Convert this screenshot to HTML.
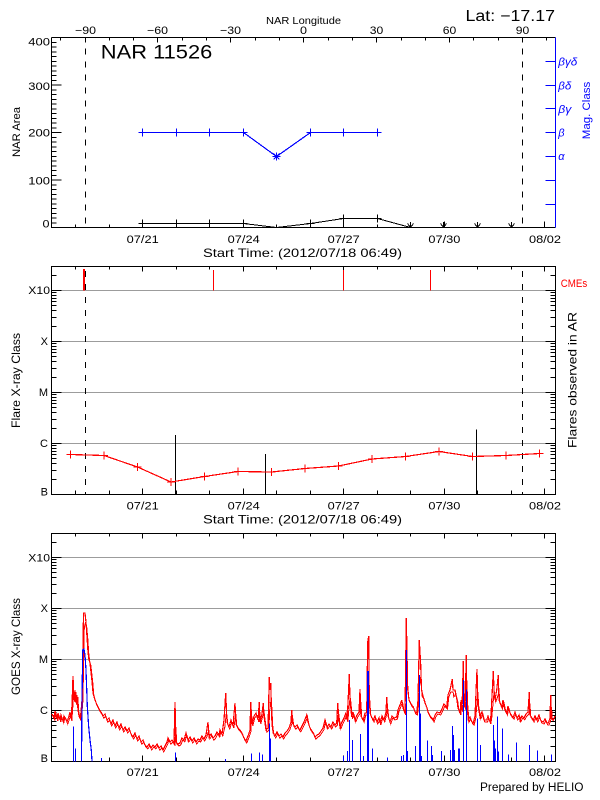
<!DOCTYPE html>
<html><head><meta charset="utf-8"><style>
html,body{margin:0;padding:0;background:#fff;}
svg{display:block;}
text{font-family:"Liberation Sans",sans-serif;fill:#000;}
</style></head><body>
<svg width="600" height="800" viewBox="0 0 600 800" xmlns="http://www.w3.org/2000/svg" shape-rendering="crispEdges">
<rect width="600" height="800" fill="#fff"/>

<!-- ================= PANEL 1 ================= -->
<g stroke="#000" fill="none" stroke-width="1">
 <path d="M51.5 37.5H555.5M51.5 37.5V227.5H555.5"/>
 <path d="M51.5 227.5h10M51.5 180h10M51.5 132.5h10M51.5 85h10M51.5 37.5h10"/>
 <path d="M51.5 222.75h5M51.5 218h5M51.5 213.25h5M51.5 208.5h5M51.5 203.75h5M51.5 199h5M51.5 194.25h5M51.5 189.5h5M51.5 184.75h5M51.5 175.25h5M51.5 170.5h5M51.5 165.75h5M51.5 161h5M51.5 156.25h5M51.5 151.5h5M51.5 146.75h5M51.5 142h5M51.5 137.25h5M51.5 127.75h5M51.5 123h5M51.5 118.25h5M51.5 113.5h5M51.5 108.75h5M51.5 104h5M51.5 99.25h5M51.5 94.5h5M51.5 89.75h5M51.5 80.25h5M51.5 75.5h5M51.5 70.75h5M51.5 66h5M51.5 61.25h5M51.5 56.5h5M51.5 51.75h5M51.5 47h5M51.5 42.25h5"/>
 <path d="M142.5 227.5v-6M243.5 227.5v-6M343.5 227.5v-6M444.5 227.5v-6M544.5 227.5v-6M75.5 227.5v-3M109.5 227.5v-3M176.5 227.5v-3M209.5 227.5v-3M276.5 227.5v-3M310.5 227.5v-3M377.5 227.5v-3M410.5 227.5v-3M477.5 227.5v-3M511.5 227.5v-3"/>
 <path d="M85.5 37.5v5M157.5 37.5v5M230.5 37.5v5M303.5 37.5v5M376.5 37.5v5M449.5 37.5v5M522.5 37.5v5M60.5 37.5v3M109.5 37.5v3M133.5 37.5v3M182.5 37.5v3M206.5 37.5v3M255.5 37.5v3M279.5 37.5v3M328.5 37.5v3M352.5 37.5v3M401.5 37.5v3M425.5 37.5v3M473.5 37.5v3M498.5 37.5v3M546.5 37.5v3"/>
 <path d="M85.5 37.5V227.5M522.5 37.5V227.5" stroke-dasharray="6,7" stroke-dashoffset="2"/>
</g>
<g stroke="#0000ff" fill="none">
 <path d="M555.5 37.5V227.5"/>
 <path d="M555.5 61.5h-10M555.5 85.5h-10M555.5 108.5h-10M555.5 132.5h-10M555.5 156.5h-10M555.5 180.5h-10M555.5 204.5h-10"/>
 <polyline points="142.5,132.5 176.5,132.5 209.5,132.5 243.5,132.5 276.5,156.5 310.5,132.5 343.5,132.5 377.5,132.5" stroke-width="1.2"/>
 <path d="M138.5 132.5h8M142.5 128.5v8M172.5 132.5h8M176.5 128.5v8M205.5 132.5h8M209.5 128.5v8M239.5 132.5h8M243.5 128.5v8M272.5 156.5h8M276.5 152.5v8M273.5 153.5l6 6M279.5 153.5l-6 6M306.5 132.5h8M310.5 128.5v8M339.5 132.5h8M343.5 128.5v8M373.5 132.5h8M377.5 128.5v8"/>
</g>
<g stroke="#000" fill="none">
 <polyline points="142.5,223.5 176.5,223.5 209.5,223.5 243.5,223.5 276.5,227.5 310.5,223.5 343.5,218.5 377.5,218.5 410.5,227.5 511.5,227.5"/>
 <path d="M138.5 223.5h8M142.5 219.5v8M172.5 223.5h8M176.5 219.5v8M205.5 223.5h8M209.5 219.5v8M239.5 223.5h8M243.5 219.5v8M306.5 223.5h8M310.5 219.5v8M339.5 218.5h8M343.5 214.5v8M373.5 218.5h8M377.5 214.5v8"/>
 <path d="M407.5 223.5l3 4l3 -4M410.5 222v5.5M440.5 223.5l3 4l3 -4M443.5 222v5.5M474.5 223.5l3 4l3 -4M477.5 222v5.5M508.5 223.5l3 4l3 -4M511.5 222v5.5"/>
</g>

<text x="266" y="24" font-size="10" textLength="75" lengthAdjust="spacingAndGlyphs">NAR Longitude</text>
<g font-size="11" text-anchor="middle">
 <text x="85.5" y="34" textLength="21" lengthAdjust="spacingAndGlyphs">−90</text>
 <text x="157.5" y="34" textLength="21" lengthAdjust="spacingAndGlyphs">−60</text>
 <text x="230.5" y="34" textLength="21" lengthAdjust="spacingAndGlyphs">−30</text>
 <text x="303.5" y="34" textLength="7" lengthAdjust="spacingAndGlyphs">0</text>
 <text x="376.5" y="34" textLength="13.5" lengthAdjust="spacingAndGlyphs">30</text>
 <text x="449.5" y="34" textLength="13.5" lengthAdjust="spacingAndGlyphs">60</text>
 <text x="522.5" y="34" textLength="13.5" lengthAdjust="spacingAndGlyphs">90</text>
</g>
<text x="465.5" y="21.2" font-size="15.5" textLength="89.5" lengthAdjust="spacingAndGlyphs">Lat: −17.17</text>
<text x="100.8" y="58.4" font-size="19.5" textLength="111.5" lengthAdjust="spacingAndGlyphs">NAR 11526</text>
<g font-size="11" text-anchor="end">
 <text x="50" y="45.7" textLength="21.7" lengthAdjust="spacingAndGlyphs">400</text>
 <text x="50" y="89.8" textLength="21.7" lengthAdjust="spacingAndGlyphs">300</text>
 <text x="50" y="136.4" textLength="21.7" lengthAdjust="spacingAndGlyphs">200</text>
 <text x="50" y="184.4" textLength="21.7" lengthAdjust="spacingAndGlyphs">100</text>
 <text x="49.5" y="227.7" textLength="7" lengthAdjust="spacingAndGlyphs">0</text>
</g>
<text x="20" y="132" font-size="11" text-anchor="middle" transform="rotate(-90 20 132)" textLength="50" lengthAdjust="spacingAndGlyphs">NAR Area</text>
<g font-size="11" font-style="italic" style="fill:#0000ff">
 <text x="558.3" y="65.3" style="fill:#0000ff" textLength="19" lengthAdjust="spacingAndGlyphs">βγδ</text>
 <text x="558.3" y="89.3" style="fill:#0000ff" textLength="13" lengthAdjust="spacingAndGlyphs">βδ</text>
 <text x="558.3" y="112.8" style="fill:#0000ff" textLength="13" lengthAdjust="spacingAndGlyphs">βγ</text>
 <text x="558.3" y="136.5" style="fill:#0000ff">β</text>
 <text x="558.3" y="160" style="fill:#0000ff">α</text>
</g>
<text x="590" y="110.5" font-size="11" text-anchor="middle" transform="rotate(-90 590 110.5)" style="fill:#0000ff" textLength="57.5" lengthAdjust="spacingAndGlyphs">Mag. Class</text>
<g font-size="11" text-anchor="middle">
 <text x="142.7" y="243" textLength="32" lengthAdjust="spacingAndGlyphs">07/21</text>
 <text x="243.7" y="243" textLength="32" lengthAdjust="spacingAndGlyphs">07/24</text>
 <text x="343.7" y="243" textLength="32" lengthAdjust="spacingAndGlyphs">07/27</text>
 <text x="444.4" y="243" textLength="32" lengthAdjust="spacingAndGlyphs">07/30</text>
 <text x="545" y="243" textLength="32" lengthAdjust="spacingAndGlyphs">08/02</text>
</g>
<text x="203" y="257" font-size="12" textLength="199" lengthAdjust="spacingAndGlyphs">Start Time: (2012/07/18 06:49)</text>

<!-- ================= LOG FRAME (panel 2, reused for panel 3) ================= -->
<g id="frame" fill="none" stroke-width="1">
 <path d="M52 290.5H555M52 341.5H555M52 392.5H555M52 443.5H555" stroke="#9c9c9c"/>
 <g stroke="#000">
  <rect x="51.5" y="266.5" width="504" height="228"/>
  <path d="M51.5 290.5h10M51.5 341.5h10M51.5 392.5h10M51.5 443.5h10M555.5 290.5h-10M555.5 341.5h-10M555.5 392.5h-10M555.5 443.5h-10"/>
  <path d="M51.5 479.5h5M51.5 470.5h5M51.5 463.5h5M51.5 458.5h5M51.5 454.5h5M51.5 451.5h5M51.5 448.5h5M51.5 445.5h5M51.5 428.5h5M51.5 419.5h5M51.5 412.5h5M51.5 407.5h5M51.5 403.5h5M51.5 400.5h5M51.5 397.5h5M51.5 394.5h5M51.5 377.5h5M51.5 368.5h5M51.5 361.5h5M51.5 356.5h5M51.5 352.5h5M51.5 349.5h5M51.5 346.5h5M51.5 343.5h5M51.5 326.5h5M51.5 317.5h5M51.5 310.5h5M51.5 305.5h5M51.5 301.5h5M51.5 298.5h5M51.5 295.5h5M51.5 292.5h5M51.5 275.5h5"/>
  <path d="M555.5 479.5h-5M555.5 470.5h-5M555.5 463.5h-5M555.5 458.5h-5M555.5 454.5h-5M555.5 451.5h-5M555.5 448.5h-5M555.5 445.5h-5M555.5 428.5h-5M555.5 419.5h-5M555.5 412.5h-5M555.5 407.5h-5M555.5 403.5h-5M555.5 400.5h-5M555.5 397.5h-5M555.5 394.5h-5M555.5 377.5h-5M555.5 368.5h-5M555.5 361.5h-5M555.5 356.5h-5M555.5 352.5h-5M555.5 349.5h-5M555.5 346.5h-5M555.5 343.5h-5M555.5 326.5h-5M555.5 317.5h-5M555.5 310.5h-5M555.5 305.5h-5M555.5 301.5h-5M555.5 298.5h-5M555.5 295.5h-5M555.5 292.5h-5M555.5 275.5h-5"/>
  <path d="M142.5 494.5v-6M243.5 494.5v-6M343.5 494.5v-6M444.5 494.5v-6M544.5 494.5v-6M75.5 494.5v-4M109.5 494.5v-4M176.5 494.5v-4M209.5 494.5v-4M276.5 494.5v-4M310.5 494.5v-4M377.5 494.5v-4M410.5 494.5v-4M477.5 494.5v-4M511.5 494.5v-4"/>
  <path d="M142.5 266.5v5M243.5 266.5v5M343.5 266.5v5M444.5 266.5v5M544.5 266.5v5M75.5 266.5v3M109.5 266.5v3M176.5 266.5v3M209.5 266.5v3M276.5 266.5v3M310.5 266.5v3M377.5 266.5v3M410.5 266.5v3M477.5 266.5v3M511.5 266.5v3"/>
 </g>
</g>
<use href="#frame" transform="translate(0,267)"/>

<!-- ================= PANEL 2 data ================= -->
<path d="M85.5 266.5V494.5M522.5 266.5V494.5" stroke="#000" stroke-dasharray="6,7" stroke-dashoffset="8.5" fill="none"/>
<rect x="83" y="269" width="2" height="21.5" fill="#ff0000"/>
<path d="M213.5 270V290.5M343.5 270V290.5M430.5 270V290.5" stroke="#ff0000" fill="none"/>
<path d="M175.5 435V494.5M265.5 454V494.5M476.5 429.5V494.5" stroke="#000" fill="none"/>
<g stroke="#ff0000" fill="none">
 <polyline points="70.5,454.5 104,455.5 137.5,467 171,482 204.5,476.5 238,471.5 271.5,472 305,468.5 338.5,466 372,459 405.5,456.5 439,451.5 472.5,456.5 506,455.5 539.5,453.5" stroke-width="1.2"/>
 <path d="M66.5 454.5h8M70.5 450.5v8M100 455.5h8M104 451.5v8M133.5 467h8M137.5 463v8M167 482h8M171 478v8M200.5 476.5h8M204.5 472.5v8M234 471.5h8M238 467.5v8M267.5 472h8M271.5 468v8M301 468.5h8M305 464.5v8M334.5 466h8M338.5 462v8M368 459h8M372 455v8M401.5 456.5h8M405.5 452.5v8M435 451.5h8M439 447.5v8M468.5 456.5h8M472.5 452.5v8M502 455.5h8M506 451.5v8M535.5 453.5h8M539.5 449.5v8"/>
</g>
<text x="560.7" y="287" font-size="11" style="fill:#ff0000" textLength="26.5" lengthAdjust="spacingAndGlyphs">CMEs</text>
<text x="576.7" y="380" font-size="12" text-anchor="middle" transform="rotate(-90 576.7 380)" textLength="136" lengthAdjust="spacingAndGlyphs">Flares observed in AR</text>
<text x="20" y="380.5" font-size="12" text-anchor="middle" transform="rotate(-90 20 380.5)" textLength="95" lengthAdjust="spacingAndGlyphs">Flare X-ray Class</text>
<g font-size="11" text-anchor="end">
 <text x="50" y="294" textLength="21.7" lengthAdjust="spacingAndGlyphs">X10</text>
 <text x="48" y="345">X</text>
 <text x="48" y="396">M</text>
 <text x="48" y="447">C</text>
 <text x="48" y="495.3">B</text>
</g>
<g font-size="11" text-anchor="middle">
 <text x="142.7" y="509.7" textLength="32" lengthAdjust="spacingAndGlyphs">07/21</text>
 <text x="243.7" y="509.7" textLength="32" lengthAdjust="spacingAndGlyphs">07/24</text>
 <text x="343.7" y="509.7" textLength="32" lengthAdjust="spacingAndGlyphs">07/27</text>
 <text x="444.4" y="509.7" textLength="32" lengthAdjust="spacingAndGlyphs">07/30</text>
 <text x="545" y="509.7" textLength="32" lengthAdjust="spacingAndGlyphs">08/02</text>
</g>
<text x="203" y="523.7" font-size="12" textLength="199" lengthAdjust="spacingAndGlyphs">Start Time: (2012/07/18 06:49)</text>

<!-- ================= PANEL 3 data ================= -->
<polyline fill="none" stroke="#ff0000" stroke-width="1.2" points="52,714 54,718 55,711 57,719 58,713 60,720 61,715 63,721 64,716 66,719 67,722 69,716 70,712 71,719 72,705 73,676 74,700 75,690 76,703 77,695 78,710 79,716 80,718 81,712 82,700 82.7,664 83.5,613 85,613 86,622 87,637 88,652 89,660 90,663 91,672 92,681 93,693 95,700 97,705 99,709 101,712 103,716 105,714 107,720 109,718 111,724 113,720 115,726 117,722 119,728 121,724 123,730 125,727 127,731 129,728 131,734 133,737 135,733 137,739 139,736 141,742 143,740 145,745 147,747 149,744 151,748 153,745 155,747 157,744 159,748 161,746 163,750 165,746 167,742 168,738 170,742 172,740 174,743 175,702 176,742 178,744 180,743 182,738 184,740 186,733 188,740 190,737 192,741 194,738 196,742 198,739 200,740 202,736 204,739 206,735 208,722 209,737 211,734 213,738 215,736 217,732 219,735 220,730 222,734 224,720 225.7,693 227,722 229,727 231,720 233,726 235,703 236,724 238,728 240,730 242,733 244,738 246,741 248,736 250,730 250.7,702 252,724 254,716 256,713 258,720 259.3,702 260,722 262,714 263.3,703 264,716 266,730 268,728 269.3,677 270,690 270.7,683 272,725 273.3,733 275,736 277,732 279,736 281,734 283,737 285,733 287,731 289,728 291,722 291.7,710 293,724 295,727 297,725 299,729 300,730 302,726 304,722 306.7,715 308,722 310,728 312,731 313.3,733 315,737 317,735 319,734 321,731 323,728 325,720 327,727 329,724 331,727 333,722 335,725 336.7,723 337.7,703 339,720 340,727 342,722 344,718 346,713 347,720 348,703 349.3,674 350,700 351.7,717 353,712 355,720 357,715 359,712 360,689 361,716 363.3,720 365,713 366.7,713 367.7,642 368.7,636 369,680 370,713 372,718 373.3,720 375,716 377,722 379,718 380,723 382,716 384,720 386,712 386.7,697 388,716 390,722 392,716 394,718 396.7,717 398,710 400,705 401.7,700 403,708 405,713 406.3,618 407.7,688 409,700 411,704 413.3,707 415,712 416.7,713 418,700 419.3,640 420.7,665 421.5,690 423.3,697 425,703 426.7,707 428,712 430,716 432,718 433.3,720 435,715 437,712 440,713 442,709 444,704 446.7,707 448,695 450,690 452.3,679 453,690 455,690 457,700 458,708 460,713 461,700 462,710 463.3,661 464,700 465,708 466.3,655 467,705 468.3,720 470,717 472,722 473.3,723 475,716 477,669 478,705 480,717 482,712 484,720 486.7,720 488,716 490,722 491,715 493.3,671 494,690 495,700 496.7,690 498.3,675 499,700 500,703 501.7,707 503,700 505,710 506.7,713 508,706 510,713 512,716 513.3,717 515,712 517,718 519,715 520,720 522,716 524,718 526,714 528,712 529.3,692 530,715 532,718 533.3,720 535,716 537,720 539,715 541,721 543.3,722 545,719 547,723 548.3,723 550,718 550.7,695 551.5,718 553.3,720 555,716"/>
<polyline fill="none" stroke="#ff0000" stroke-width="1" transform="translate(0.8,2)" points="52,714 54,718 55,711 57,719 58,713 60,720 61,715 63,721 64,716 66,719 67,722 69,716 70,712 71,719 72,705 73,690 74,700 75,690 76,703 77,695 78,710 79,716 80,718 81,712 82,700 82.7,670 83.5,625 85,620 86,626 87,637 88,652 89,660 90,663 91,672 92,681 93,693 95,700 97,705 99,709 101,712 103,716 105,714 107,720 109,718 111,724 113,720 115,726 117,722 119,728 121,724 123,730 125,727 127,731 129,728 131,734 133,737 135,733 137,739 139,736 141,742 143,740 145,745 147,747 149,744 151,748 153,745 155,747 157,744 159,748 161,746 163,750 165,746 167,742 168,738 170,742 172,740 174,743 175,725 176,742 178,744 180,743 182,738 184,740 186,733 188,740 190,737 192,741 194,738 196,742 198,739 200,740 202,736 204,739 206,735 208,728 209,737 211,734 213,738 215,736 217,732 219,735 220,730 222,734 224,725 225.7,710 227,722 229,727 231,720 233,726 235,712 236,724 238,728 240,730 242,733 244,738 246,741 248,736 250,730 250.7,712 252,724 254,716 256,713 258,720 259.3,712 260,722 262,714 263.3,710 264,716 266,730 268,728 269.3,700 270,705 270.7,700 272,725 273.3,733 275,736 277,732 279,736 281,734 283,737 285,733 287,731 289,728 291,722 291.7,715 293,724 295,727 297,725 299,729 300,730 302,726 304,722 306.7,715 308,722 310,728 312,731 313.3,733 315,737 317,735 319,734 321,731 323,728 325,720 327,727 329,724 331,727 333,722 335,725 336.7,723 337.7,710 339,720 340,727 342,722 344,718 346,713 347,720 348,708 349.3,695 350,700 351.7,717 353,712 355,720 357,715 359,712 360,700 361,716 363.3,720 365,713 366.7,713 367.7,680 368.7,690 369,700 370,713 372,718 373.3,720 375,716 377,722 379,718 380,723 382,716 384,720 386,712 386.7,705 388,716 390,722 392,716 394,718 396.7,717 398,710 400,705 401.7,700 403,708 405,713 406.3,680 407.7,695 409,700 411,704 413.3,707 415,712 416.7,713 418,700 419.3,675 420.7,685 421.5,695 423.3,697 425,703 426.7,707 428,712 430,716 432,718 433.3,720 435,715 437,712 440,713 442,709 444,704 446.7,707 448,695 450,690 452.3,690 453,695 455,692 457,700 458,708 460,713 461,700 462,710 463.3,690 464,700 465,708 466.3,685 467,705 468.3,720 470,717 472,722 473.3,723 475,716 477,690 478,705 480,717 482,712 484,720 486.7,720 488,716 490,722 491,715 493.3,690 494,695 495,700 496.7,695 498.3,690 499,700 500,703 501.7,707 503,700 505,710 506.7,713 508,706 510,713 512,716 513.3,717 515,712 517,718 519,715 520,720 522,716 524,718 526,714 528,712 529.3,705 530,715 532,718 533.3,720 535,716 537,720 539,715 541,721 543.3,722 545,719 547,723 548.3,723 550,718 550.7,705 551.5,718 553.3,717"/>
<g stroke="#0000ff" fill="none">
 <polyline points="81.5,761.5 82,700 82.7,650 84,649 85,655 86,670 87.3,706 88.7,727 90,740 91.3,750 92,761.5" stroke-width="1.2"/>
 <path d="M73.5 761.5V726.7M75.5 761.5V748.3M101.5 761.5V758M175.5 761.5V752.3M225.5 761.5V759M251.5 761.5V753.3M259.5 761.5V752.3M262.5 761.5V754.3M269.5 761.5V723.3M270.5 761.5V738.7M343.5 761.5V756M347.5 761.5V751M349.5 761.5V720M352.5 761.5V740M360.5 761.5V734M363.5 761.5V756M367.5 761.5V671M368.5 761.5V671M372.5 761.5V748.3M387.5 761.5V757.3M401.5 761.5V756M403.5 761.5V755M406.5 761.5V650M407.5 761.5V751M415.5 761.5V746M419.5 761.5V675M420.5 761.5V713.3M421.5 761.5V756M427.5 761.5V740.7M431.5 761.5V746M432.5 761.5V755M441.5 761.5V751M450.5 761.5V750M452.5 761.5V726M453.5 761.5V735M454.5 761.5V750M458.5 761.5V748.3M459.5 761.5V748.3M463.5 761.5V680M466.5 761.5V689.3M477.5 761.5V718.3M480.5 761.5V745M493.5 761.5V725M494.5 761.5V740.7M495.5 761.5V748.3M497.5 761.5V716.7M498.5 761.5V751.7M502.5 761.5V728.3M508.5 761.5V754.3M516.5 761.5V742.7M529.5 761.5V745M537.5 761.5V750.7M551.5 761.5V754.3"/>
</g>
<text x="20" y="646.5" font-size="12" text-anchor="middle" transform="rotate(-90 20 646.5)" textLength="97" lengthAdjust="spacingAndGlyphs">GOES X-ray Class</text>
<g font-size="11" text-anchor="end">
 <text x="50" y="561.5" textLength="21.7" lengthAdjust="spacingAndGlyphs">X10</text>
 <text x="48" y="612">X</text>
 <text x="48" y="663">M</text>
 <text x="48" y="714">C</text>
 <text x="48" y="761.8">B</text>
</g>
<g font-size="11" text-anchor="middle">
 <text x="142.7" y="775.8" textLength="32" lengthAdjust="spacingAndGlyphs">07/21</text>
 <text x="243.7" y="775.8" textLength="32" lengthAdjust="spacingAndGlyphs">07/24</text>
 <text x="343.7" y="775.8" textLength="32" lengthAdjust="spacingAndGlyphs">07/27</text>
 <text x="444.4" y="775.8" textLength="32" lengthAdjust="spacingAndGlyphs">07/30</text>
 <text x="545" y="775.8" textLength="32" lengthAdjust="spacingAndGlyphs">08/02</text>
</g>
<text x="480" y="791" font-size="11.5" textLength="103.5" lengthAdjust="spacingAndGlyphs">Prepared by HELIO</text>
</svg>
</body></html>
